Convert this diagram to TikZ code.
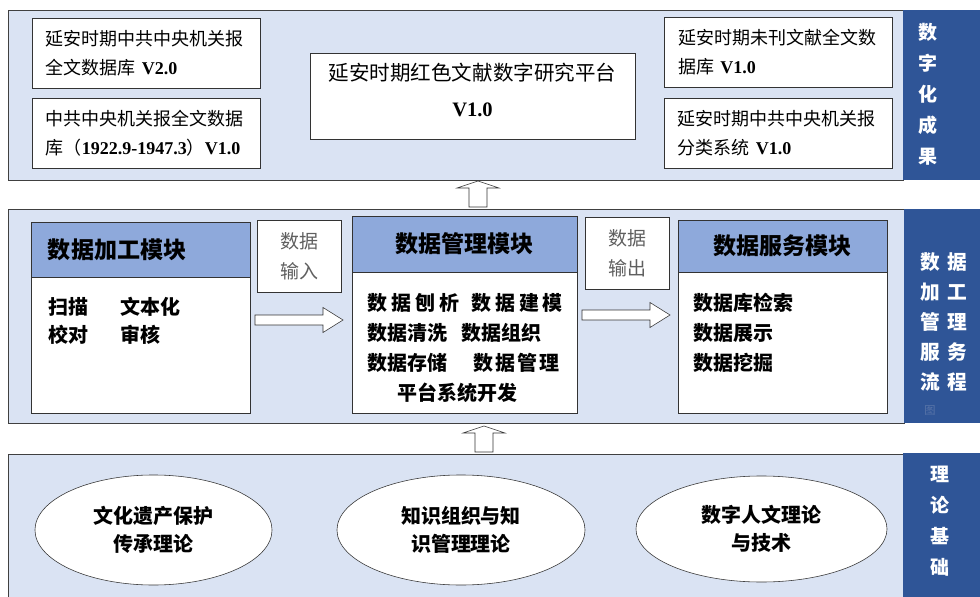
\documentclass[tikz,border=0pt]{standalone}
\usepackage{fontspec}
\setmainfont{Noto Sans CJK SC}
\newfontfamily\latinserif{Liberation Serif}
\usetikzlibrary{shapes.geometric}

\definecolor{bandblue}{RGB}{218,227,243}
\definecolor{headblue}{RGB}{142,169,219}
\definecolor{sideblue}{RGB}{47,85,151}
\definecolor{iogray}{RGB}{95,95,95}
\definecolor{faintblue}{RGB}{88,116,168}

\newcommand{\vtag}[1]{{\latinserif\bfseries #1}}

\tikzset{
	band/.style={draw=black!75, fill=bandblue, inner sep=0pt},
	side/.style={fill=sideblue, inner sep=0pt},
	sidetext/.style={text=white, align=center, inner sep=0pt, font=\bfseries\fontsize{13.5}{22}\selectfont},
	resbox/.style={draw=black!80, fill=white, minimum width=5.7cm, minimum height=1.75cm, text width=5cm, inner xsep=0.35cm, align=left, font=\fontsize{12.8}{20.6}\selectfont},
	modbody/.style={draw=black!80, fill=white, inner sep=0pt},
	modhead/.style={draw=black!80, fill=headblue, inner sep=0pt, anchor=north, font=\bfseries\fontsize{16.4}{20}\selectfont},
	modtext/.style={anchor=west, align=left, inner sep=0pt, font=\bfseries\fontsize{14.2}{21.3}\selectfont},
	iobox/.style={draw=black!80, fill=white, minimum width=2.1cm, minimum height=1.8cm, align=center, text=iogray, font=\fontsize{13.5}{21.3}\selectfont},
	theory/.style={ellipse, draw=black!80, fill=white, minimum height=2.75cm, align=center, font=\bfseries\fontsize{14.2}{20}\selectfont},
	blockup/.pic={\draw[black!80, fill=white] (-9,0) -- (-9,-19) -- (-21,-19) -- (0,-26) -- (21,-19) -- (9,-19) -- (9,0) -- cycle;},
	blockright/.pic={\draw[black!80, fill=white] (0,-5) -- (68,-5) -- (68,-12.5) -- (88,0) -- (68,12.5) -- (68,5) -- (0,5) -- cycle;}
}

\begin{document}
\begin{tikzpicture}[x=0.025cm, y=-0.025cm]

	\useasboundingbox (0,0) rectangle (980,597);

	\node[band, minimum width=22.375cm, minimum height=4.25cm] (resultBand) at (455.5,95) {};
	\node[band, minimum width=22.4cm, minimum height=5.35cm] (flowBand) at (456,316) {};
	\node[band, minimum width=22.375cm, minimum height=3.6cm] (theoryBand) at (455.5,526) {};

	\node[side, minimum width=1.925cm, minimum height=4.25cm] (resultSide) at (941.5,95) {};
	\node[side, minimum width=1.9cm, minimum height=5.35cm] (flowSide) at (942,316) {};
	\node[side, minimum width=1.925cm, minimum height=3.6cm] (theorySide) at (941.5,525) {};

	\node[sidetext] (resultLabel) at (928,94) {数\\字\\化\\成\\果};
	\node[sidetext, font=\bfseries\fontsize{14}{21.3}\selectfont] (flowLabel) at (944,322) {数\hspace{.4em}据\\加\hspace{.4em}工\\管\hspace{.4em}理\\服\hspace{.4em}务\\流\hspace{.4em}程};
	\node[inner sep=0pt, text=faintblue, font=\fontsize{8}{8}\selectfont] (flowMark) at (930,410) {图};
	\node[sidetext] (theoryLabel) at (940,521) {理\\论\\基\\础};

	\node[resbox] (yananPaper) at (146,53) {延安时期中共中央机关报\\全文数据库 \vtag{V2.0}};
	\node[resbox] (centralPaper) at (146,133) {中共中央机关报全文数据\\库（\vtag{1922.9-1947.3}）\vtag{V1.0}};
	\node[draw=black!80, fill=white, minimum width=8.125cm, minimum height=2.15cm] (platform) at (472.5,96) {};
	\node[align=center, inner sep=0pt, font=\fontsize{14.6}{25.6}\selectfont] (platformText) at (472.5,90) {延安时期红色文献数字研究平台\\\vtag{V1.0}};
	\node[resbox] (unpublished) at (778.5,52.5) {延安时期未刊文献全文数\\据库 \vtag{V1.0}};
	\node[resbox] (classify) at (778,133) {延安时期中共中央机关报\\分类系统 \vtag{V1.0}};

	\node[modbody, minimum width=5.475cm, minimum height=4.775cm] (procBody) at (140.5,317.5) {};
	\node[modhead, minimum width=5.475cm, minimum height=1.375cm, text width=4.625cm, inner xsep=0.425cm, align=left] (procHead) at (procBody.north) {数据加工模块};
	\node[modtext, font=\bfseries\fontsize{14.2}{20}\selectfont] (procText) at (48,321) {\makebox[3.6em][l]{扫描}文本化\\\makebox[3.6em][l]{校对}审核};

	\node[iobox] (dataIn) at (299,256) {数据\\输入};
	\pic at (255,320) {blockright};

	\node[modbody, minimum width=5.625cm, minimum height=4.925cm] (mgmtBody) at (464.5,314.5) {};
	\node[modhead, minimum width=5.625cm, minimum height=1.4cm] (mgmtHead) at (mgmtBody.north) {数据管理模块};
	\node[modtext] (mgmtText) at (367,348) {数\hspace{.2em}据\hspace{.2em}刨\hspace{.2em}析\hspace{.6em}数\hspace{.2em}据\hspace{.2em}建\hspace{.2em}模\\数据清洗\hspace{.7em}数据组织\\数据存储\hspace{1.3em}数\hspace{.1em}据\hspace{.1em}管\hspace{.1em}理\\\hspace*{1.5em}平台系统开发};

	\node[iobox] (dataOut) at (627.5,253.5) {数据\\输出};
	\pic at (582,315) {blockright};

	\node[modbody, minimum width=5.225cm, minimum height=4.825cm] (servBody) at (782.5,316.5) {};
	\node[modhead, minimum width=5.225cm, minimum height=1.3cm] (servHead) at (servBody.north) {数据服务模块};
	\node[modtext] (servText) at (693,333) {数据库检索\\数据展示\\数据挖掘};

	\pic at (478,207) {blockup};
	\pic at (484,452) {blockup};

	\node[theory, minimum width=5.925cm] (heritage) at (153.5,530) {文化遗产保护\\传承理论};
	\node[theory, minimum width=6.2cm] (knowledge) at (461,530) {知识组织与知\\识管理理论};
	\node[theory, minimum width=6.275cm, minimum height=2.65cm] (humanities) at (761.5,529) {数字人文理论\\与技术};

\end{tikzpicture}
\end{document}
